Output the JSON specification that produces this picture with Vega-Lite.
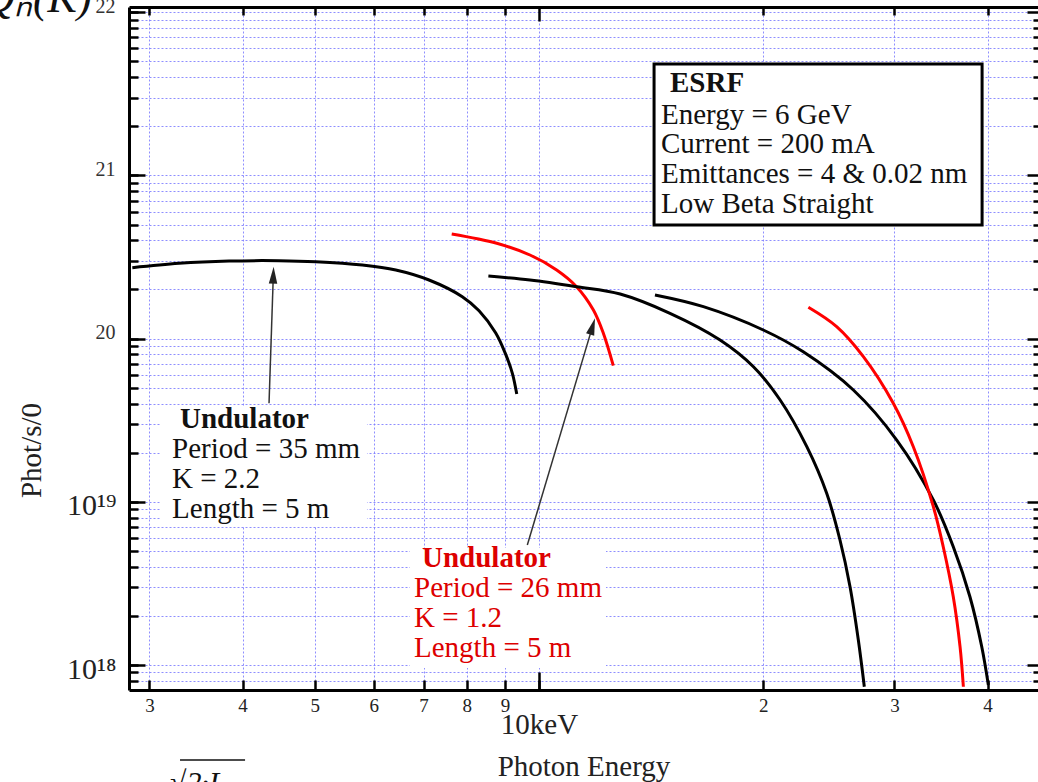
{
  "$schema": "https://vega.github.io/schema/vega-lite/v6.json",
  "width": 909,
  "height": 683,
  "autosize": {"type": "none"},
  "padding": {"left": 129, "top": 7, "right": 0, "bottom": 92},
  "background": "white",
  "config": {
    "view": {"stroke": null},
    "font": "Liberation Serif",
    "axis": {"labelFont": "Liberation Serif", "titleFont": "Liberation Serif"}
  },
  "datasets": {
    "curves": [
      {"und": "35 mm", "harmonic": "1", "E": 2.845, "P": 2.719e20},
      {"und": "35 mm", "harmonic": "1", "E": 3.287, "P": 2.893e20},
      {"und": "35 mm", "harmonic": "1", "E": 3.837, "P": 2.988e20},
      {"und": "35 mm", "harmonic": "1", "E": 4.477, "P": 3.001e20},
      {"und": "35 mm", "harmonic": "1", "E": 5.016, "P": 2.959e20},
      {"und": "35 mm", "harmonic": "1", "E": 5.791, "P": 2.825e20},
      {"und": "35 mm", "harmonic": "1", "E": 6.423, "P": 2.633e20},
      {"und": "35 mm", "harmonic": "1", "E": 7.118, "P": 2.286e20},
      {"und": "35 mm", "harmonic": "1", "E": 7.889, "P": 1.806e20},
      {"und": "35 mm", "harmonic": "1", "E": 8.308, "P": 1.48e20},
      {"und": "35 mm", "harmonic": "1", "E": 8.748, "P": 1.082e20},
      {"und": "35 mm", "harmonic": "1", "E": 9.022, "P": 8.0e19},
      {"und": "35 mm", "harmonic": "1", "E": 9.209, "P": 6.13e19},
      {"und": "35 mm", "harmonic": "1", "E": 9.335, "P": 4.576e19},
      {"und": "26 mm", "harmonic": "1", "E": 7.635, "P": 4.374e20},
      {"und": "26 mm", "harmonic": "1", "E": 8.775, "P": 3.837e20},
      {"und": "26 mm", "harmonic": "1", "E": 9.725, "P": 3.253e20},
      {"und": "26 mm", "harmonic": "1", "E": 10.56, "P": 2.633e20},
      {"und": "26 mm", "harmonic": "1", "E": 11.23, "P": 2.08e20},
      {"und": "26 mm", "harmonic": "1", "E": 11.83, "P": 1.497e20},
      {"und": "26 mm", "harmonic": "1", "E": 12.2, "P": 1.078e20},
      {"und": "26 mm", "harmonic": "1", "E": 12.58, "P": 6.823e19},
      {"und": "35 mm", "harmonic": "3", "E": 8.551, "P": 2.418e20},
      {"und": "35 mm", "harmonic": "3", "E": 9.725, "P": 2.286e20},
      {"und": "35 mm", "harmonic": "3", "E": 11.23, "P": 2.08e20},
      {"und": "35 mm", "harmonic": "3", "E": 12.85, "P": 1.876e20},
      {"und": "35 mm", "harmonic": "3", "E": 14.99, "P": 1.429e20},
      {"und": "35 mm", "harmonic": "3", "E": 17.5, "P": 9.804e19},
      {"und": "35 mm", "harmonic": "3", "E": 19.4, "P": 6.727e19},
      {"und": "35 mm", "harmonic": "3", "E": 21.07, "P": 4.205e19},
      {"und": "35 mm", "harmonic": "3", "E": 22.88, "P": 2.176e19},
      {"und": "35 mm", "harmonic": "3", "E": 24.33, "P": 1.128e19},
      {"und": "35 mm", "harmonic": "3", "E": 25.35, "P": 5.834e18},
      {"und": "35 mm", "harmonic": "3", "E": 26.15, "P": 3.018e18},
      {"und": "35 mm", "harmonic": "3", "E": 26.83, "P": 1.423e18},
      {"und": "35 mm", "harmonic": "3", "E": 27.33, "P": 7.362e17},
      {"und": "35 mm", "harmonic": "5", "E": 14.31, "P": 1.85e20},
      {"und": "35 mm", "harmonic": "5", "E": 16.62, "P": 1.569e20},
      {"und": "35 mm", "harmonic": "5", "E": 20.0, "P": 1.129e20},
      {"und": "35 mm", "harmonic": "5", "E": 22.63, "P": 8.3e19},
      {"und": "35 mm", "harmonic": "5", "E": 26.42, "P": 4.842e19},
      {"und": "35 mm", "harmonic": "5", "E": 30.21, "P": 2.391e19},
      {"und": "35 mm", "harmonic": "5", "E": 33.83, "P": 1.026e19},
      {"und": "35 mm", "harmonic": "5", "E": 35.98, "P": 5.307e18},
      {"und": "35 mm", "harmonic": "5", "E": 37.88, "P": 2.621e18},
      {"und": "35 mm", "harmonic": "5", "E": 39.29, "P": 1.295e18},
      {"und": "35 mm", "harmonic": "5", "E": 40.1, "P": 7.541e17},
      {"und": "26 mm", "harmonic": "3", "E": 22.99, "P": 1.555e20},
      {"und": "26 mm", "harmonic": "3", "E": 25.09, "P": 1.183e20},
      {"und": "26 mm", "harmonic": "3", "E": 27.25, "P": 7.748e19},
      {"und": "26 mm", "harmonic": "3", "E": 29.89, "P": 4.015e19},
      {"und": "26 mm", "harmonic": "3", "E": 31.8, "P": 2.176e19},
      {"und": "26 mm", "harmonic": "3", "E": 33.83, "P": 9.333e18},
      {"und": "26 mm", "harmonic": "3", "E": 34.88, "P": 5.307e18},
      {"und": "26 mm", "harmonic": "3", "E": 35.98, "P": 2.621e18},
      {"und": "26 mm", "harmonic": "3", "E": 36.74, "P": 1.295e18},
      {"und": "26 mm", "harmonic": "3", "E": 37.12, "P": 7.362e17}
    ],
    "textbg": [
      {"E": 3.099, "E2": 5.876, "P": 7.008e18, "P2": 3.864e19},
      {"E": 6.711, "E2": 12.3, "P": 9.585e17, "P2": 5.21e18}
    ],
    "esrfbox": [
      {"E": 14.27, "E2": 39.33, "P": 4.966e20, "P2": 4.815e21}
    ],
    "arrows": [
      {"id": "a", "E": 4.341, "P": 4.014e19, "E2": 4.399, "P2": 2.446e20},
      {"id": "b", "E": 9.645, "P": 5.436e18, "E2": 11.8, "P2": 1.188e20}
    ],
    "labels": [
      {"text": "ESRF", "src": "ESRF", "bold": true, "E": 14.99, "P": 3.244e21},
      {"text": "Energy = 6 GeV", "src": "ESRF", "bold": false, "E": 14.58, "P": 2.065e21},
      {"text": "Current = 200 mA", "src": "ESRF", "bold": false, "E": 14.58, "P": 1.371e21},
      {"text": "Emittances = 4 & 0.02 nm", "src": "ESRF", "bold": false, "E": 14.58, "P": 8.97e20},
      {"text": "Low Beta Straight", "src": "ESRF", "bold": false, "E": 14.58, "P": 5.89e20},
      {"text": "Undulator", "src": "35 mm", "bold": true, "E": 3.297, "P": 2.833e19},
      {"text": "Period = 35 mm", "src": "35 mm", "bold": false, "E": 3.217, "P": 1.855e19},
      {"text": "K = 2.2", "src": "35 mm", "bold": false, "E": 3.217, "P": 1.215e19},
      {"text": "Length = 5 m", "src": "35 mm", "bold": false, "E": 3.217, "P": 7.956e18},
      {"text": "Undulator", "src": "26 mm", "bold": true, "E": 6.966, "P": 3.986e18},
      {"text": "Period = 26 mm", "src": "26 mm", "bold": false, "E": 6.795, "P": 2.61e18},
      {"text": "K = 1.2", "src": "26 mm", "bold": false, "E": 6.795, "P": 1.71e18},
      {"text": "Length = 5 m", "src": "26 mm", "bold": false, "E": 6.795, "P": 1.12e18}
    ]
  },
  "resolve": {
    "axis": {"x": "independent", "y": "independent"},
    "scale": {"color": "independent"}
  },
  "layer": [
    {
      "data": {"name": "curves"},
      "mark": {"type": "line", "strokeWidth": 3, "interpolate": "catmull-rom"},
      "encoding": {
        "x": {
          "field": "E", "type": "quantitative",
          "scale": {"type": "log", "domain": [2.816, 46.75], "nice": false},
          "axis": {
            "orient": "bottom", "values": [3, 4, 5, 6, 7, 8, 9, 10, 20, 30, 40],
            "grid": true, "gridColor": "#7a7aff", "gridOpacity": 0.85, "gridDash": [2, 2], "gridWidth": 1,
            "domain": true, "domainColor": "black", "domainWidth": 3,
            "ticks": true, "tickSize": -10, "tickWidth": 2.5, "tickColor": "black",
            "labels": true,
            "labelExpr": "datum.value == 10 ? '' : (datum.value > 10 ? format(datum.value / 10, 'd') : format(datum.value, 'd'))",
            "labelFontSize": 19, "labelColor": "#222", "labelPadding": 31, "labelBaseline": "alphabetic",
            "labelOverlap": false, "labelFlush": false, "title": null
          }
        },
        "y": {
          "field": "P", "type": "quantitative",
          "scale": {"type": "log", "domain": [7.03e17, 1.076e22], "nice": false},
          "axis": {
            "orient": "left",
            "values": [7e17, 8e17, 9e17, 1e18, 2e18, 3e18, 4e18, 5e18, 6e18, 7e18, 8e18, 9e18, 1e19, 2e19, 3e19, 4e19, 5e19, 6e19, 7e19, 8e19, 9e19, 1e20, 2e20, 3e20, 4e20, 5e20, 6e20, 7e20, 8e20, 9e20, 1e21, 2e21, 3e21, 4e21, 5e21, 6e21, 7e21, 8e21, 9e21, 1e22],
            "grid": true, "gridColor": "#7a7aff", "gridOpacity": 0.85, "gridDash": [2, 2], "gridWidth": 1,
            "domain": true, "domainColor": "black", "domainWidth": 3,
            "ticks": true, "tickSize": -9, "tickWidth": 2.5, "tickColor": "black",
            "labels": false, "title": null
          }
        },
        "color": {"field": "und", "type": "nominal", "scale": {"domain": ["35 mm", "26 mm"], "range": ["#000000", "#ff0000"]}, "legend": null},
        "detail": {"field": "harmonic"}
      }
    },
    {
      "data": {"name": "textbg"},
      "mark": {"type": "rect", "fill": "white", "strokeWidth": 0},
      "encoding": {
        "x": {
          "field": "E", "type": "quantitative",
          "scale": {"type": "log", "domain": [2.816, 46.75], "nice": false},
          "axis": {
            "orient": "bottom", "values": [10], "grid": false, "domain": false,
            "ticks": true, "tickSize": -18, "tickWidth": 2.5, "tickColor": "black",
            "labelExpr": "'10keV'", "labelFontSize": 29, "labelColor": "#222", "labelPadding": 61, "labelBaseline": "alphabetic",
            "labelOverlap": false, "labelFlush": false,
            "title": "Photon Energy", "titleFontSize": 29, "titleFontWeight": "normal", "titleColor": "#222",
            "titleY": 85, "titleBaseline": "alphabetic"
          }
        },
        "x2": {"field": "E2"},
        "y": {
          "field": "P", "type": "quantitative",
          "scale": {"type": "log", "domain": [7.03e17, 1.076e22], "nice": false},
          "axis": {
            "orient": "left", "values": [1e18, 1e19, 1e20, 1e21, 1e22], "grid": false, "domain": false,
            "ticks": true, "tickSize": -16, "tickWidth": 2.5, "tickColor": "black",
            "labelExpr": "datum.value < 5e18 ? '10¹⁸' : (datum.value < 5e19 ? '10¹⁹' : '')",
            "labelFontSize": 30, "labelColor": "#222", "labelPadding": 29, "labelBaseline": "alphabetic", "labelOffset": 13,
            "labelOverlap": false, "labelFlush": false,
            "title": "Phot/s/0", "titleFontSize": 29, "titleFontWeight": "normal", "titleColor": "#222",
            "titleX": -89, "titleY": 443, "titleAngle": 270, "titleAlign": "center", "titleBaseline": "alphabetic"
          }
        },
        "y2": {"field": "P2"}
      }
    },
    {
      "data": {"name": "esrfbox"},
      "mark": {"type": "rect", "fill": "white", "stroke": "black", "strokeWidth": 3},
      "encoding": {
        "x": {
          "field": "E", "type": "quantitative",
          "scale": {"type": "log", "domain": [2.816, 46.75], "nice": false},
          "axis": {
            "orient": "top", "values": [3, 4, 5, 6, 7, 8, 9, 20, 30, 40], "grid": false,
            "domain": true, "domainColor": "black", "domainWidth": 3,
            "ticks": true, "tickSize": -8, "tickWidth": 2.5, "tickColor": "black",
            "labels": false, "title": null
          }
        },
        "x2": {"field": "E2"},
        "y": {
          "field": "P", "type": "quantitative",
          "scale": {"type": "log", "domain": [7.03e17, 1.076e22], "nice": false},
          "axis": {
            "orient": "right",
            "values": [7e17, 8e17, 9e17, 2e18, 3e18, 4e18, 5e18, 6e18, 7e18, 8e18, 9e18, 2e19, 3e19, 4e19, 5e19, 6e19, 7e19, 8e19, 9e19, 2e20, 3e20, 4e20, 5e20, 6e20, 7e20, 8e20, 9e20, 2e21, 3e21, 4e21, 5e21, 6e21, 7e21, 8e21, 9e21],
            "grid": false, "domain": false,
            "ticks": true, "tickSize": -5, "tickWidth": 2.5, "tickColor": "black",
            "labels": false, "title": null
          }
        },
        "y2": {"field": "P2"}
      }
    },
    {
      "data": {"name": "arrows"},
      "mark": {"type": "rule", "strokeWidth": 1.5, "color": "#333333"},
      "encoding": {
        "x": {
          "field": "E", "type": "quantitative",
          "scale": {"type": "log", "domain": [2.816, 46.75], "nice": false},
          "axis": {
            "orient": "top", "values": [10], "grid": false, "domain": false,
            "ticks": true, "tickSize": -14, "tickWidth": 2.5, "tickColor": "black",
            "labels": false, "title": null
          }
        },
        "x2": {"field": "E2"},
        "y": {
          "field": "P", "type": "quantitative",
          "scale": {"type": "log", "domain": [7.03e17, 1.076e22], "nice": false},
          "axis": {
            "orient": "right", "values": [1e18, 1e19, 1e20, 1e21, 1e22], "grid": false, "domain": false,
            "ticks": true, "tickSize": -11, "tickWidth": 2.5, "tickColor": "black",
            "labels": false, "title": null
          }
        },
        "y2": {"field": "P2"}
      }
    },
    {
      "data": {"name": "arrows"},
      "transform": [{"filter": "datum.id == 'a'"}],
      "mark": {"type": "point", "shape": "M0,-1L-0.5,1L0.5,1Z", "size": 289, "filled": true, "color": "#222222", "opacity": 1, "angle": 2},
      "encoding": {
        "x": {"field": "E2", "type": "quantitative", "scale": {"type": "log", "domain": [2.816, 46.75], "nice": false}, "axis": null},
        "y": {
          "field": "P2", "type": "quantitative",
          "scale": {"type": "log", "domain": [7.03e17, 1.076e22], "nice": false},
          "axis": {
            "orient": "left", "values": [1e20, 1e21, 1e22], "grid": false, "domain": false, "ticks": false,
            "labelExpr": "datum.value < 5e20 ? '20' : (datum.value < 5e21 ? '21' : '22')",
            "labelFontSize": 20, "labelColor": "#333", "labelPadding": 14, "labelBaseline": "alphabetic", "labelOffset": 0,
            "labelOverlap": false, "labelFlush": false, "title": null
          }
        }
      }
    },
    {
      "data": {"name": "arrows"},
      "transform": [{"filter": "datum.id == 'b'"}],
      "mark": {"type": "point", "shape": "M0,-1L-0.5,1L0.5,1Z", "size": 289, "filled": true, "color": "#222222", "opacity": 1, "angle": 16.6},
      "encoding": {
        "x": {"field": "E2", "type": "quantitative", "scale": {"type": "log", "domain": [2.816, 46.75], "nice": false}, "axis": null},
        "y": {"field": "P2", "type": "quantitative", "scale": {"type": "log", "domain": [7.03e17, 1.076e22], "nice": false}, "axis": null}
      }
    },
    {
      "data": {"name": "labels"},
      "transform": [{"filter": "!datum.bold"}],
      "mark": {"type": "text", "align": "left", "baseline": "alphabetic", "font": "Liberation Serif", "fontSize": 29},
      "encoding": {
        "x": {"field": "E", "type": "quantitative", "scale": {"type": "log", "domain": [2.816, 46.75], "nice": false}, "axis": null},
        "y": {"field": "P", "type": "quantitative", "scale": {"type": "log", "domain": [7.03e17, 1.076e22], "nice": false}, "axis": null},
        "text": {"field": "text"},
        "color": {"field": "src", "type": "nominal", "scale": {"domain": ["ESRF", "35 mm", "26 mm"], "range": ["#111111", "#111111", "#dd0000"]}, "legend": null}
      }
    },
    {
      "data": {"name": "labels"},
      "transform": [{"filter": "datum.bold"}],
      "mark": {"type": "text", "align": "left", "baseline": "alphabetic", "font": "Liberation Serif", "fontSize": 29, "fontWeight": "bold"},
      "encoding": {
        "x": {"field": "E", "type": "quantitative", "scale": {"type": "log", "domain": [2.816, 46.75], "nice": false}, "axis": null},
        "y": {"field": "P", "type": "quantitative", "scale": {"type": "log", "domain": [7.03e17, 1.076e22], "nice": false}, "axis": null},
        "text": {"field": "text"},
        "color": {"field": "src", "type": "nominal", "scale": {"domain": ["ESRF", "35 mm", "26 mm"], "range": ["#111111", "#111111", "#dd0000"]}, "legend": null}
      }
    },
    {
      "data": {"values": [{"text": "Qₙ(K)", "E": 1.794, "P": 1.003e22}]},
      "mark": {"type": "text", "align": "left", "baseline": "alphabetic", "font": "Liberation Serif", "fontSize": 44, "fontStyle": "italic", "color": "#111111"},
      "encoding": {
        "x": {"field": "E", "type": "quantitative", "scale": {"type": "log", "domain": [2.816, 46.75], "nice": false}, "axis": null},
        "y": {"field": "P", "type": "quantitative", "scale": {"type": "log", "domain": [7.03e17, 1.076e22], "nice": false}, "axis": null},
        "text": {"field": "text"}
      }
    },
    {
      "data": {"values": [{"text": "√2·L", "E": 3.197, "P": 1.667e17}]},
      "mark": {"type": "text", "align": "left", "baseline": "alphabetic", "font": "Liberation Serif", "fontSize": 30, "fontStyle": "italic", "color": "#111111"},
      "encoding": {
        "x": {"field": "E", "type": "quantitative", "scale": {"type": "log", "domain": [2.816, 46.75], "nice": false}, "axis": null},
        "y": {"field": "P", "type": "quantitative", "scale": {"type": "log", "domain": [7.03e17, 1.076e22], "nice": false}, "axis": null},
        "text": {"field": "text"}
      }
    },
    {
      "data": {"values": [{"E": 3.297, "E2": 4.031, "P": 2.618e17}]},
      "mark": {"type": "rule", "strokeWidth": 1.5, "color": "#111111"},
      "encoding": {
        "x": {"field": "E", "type": "quantitative", "scale": {"type": "log", "domain": [2.816, 46.75], "nice": false}, "axis": null},
        "x2": {"field": "E2"},
        "y": {"field": "P", "type": "quantitative", "scale": {"type": "log", "domain": [7.03e17, 1.076e22], "nice": false}, "axis": null}
      }
    }
  ]
}
